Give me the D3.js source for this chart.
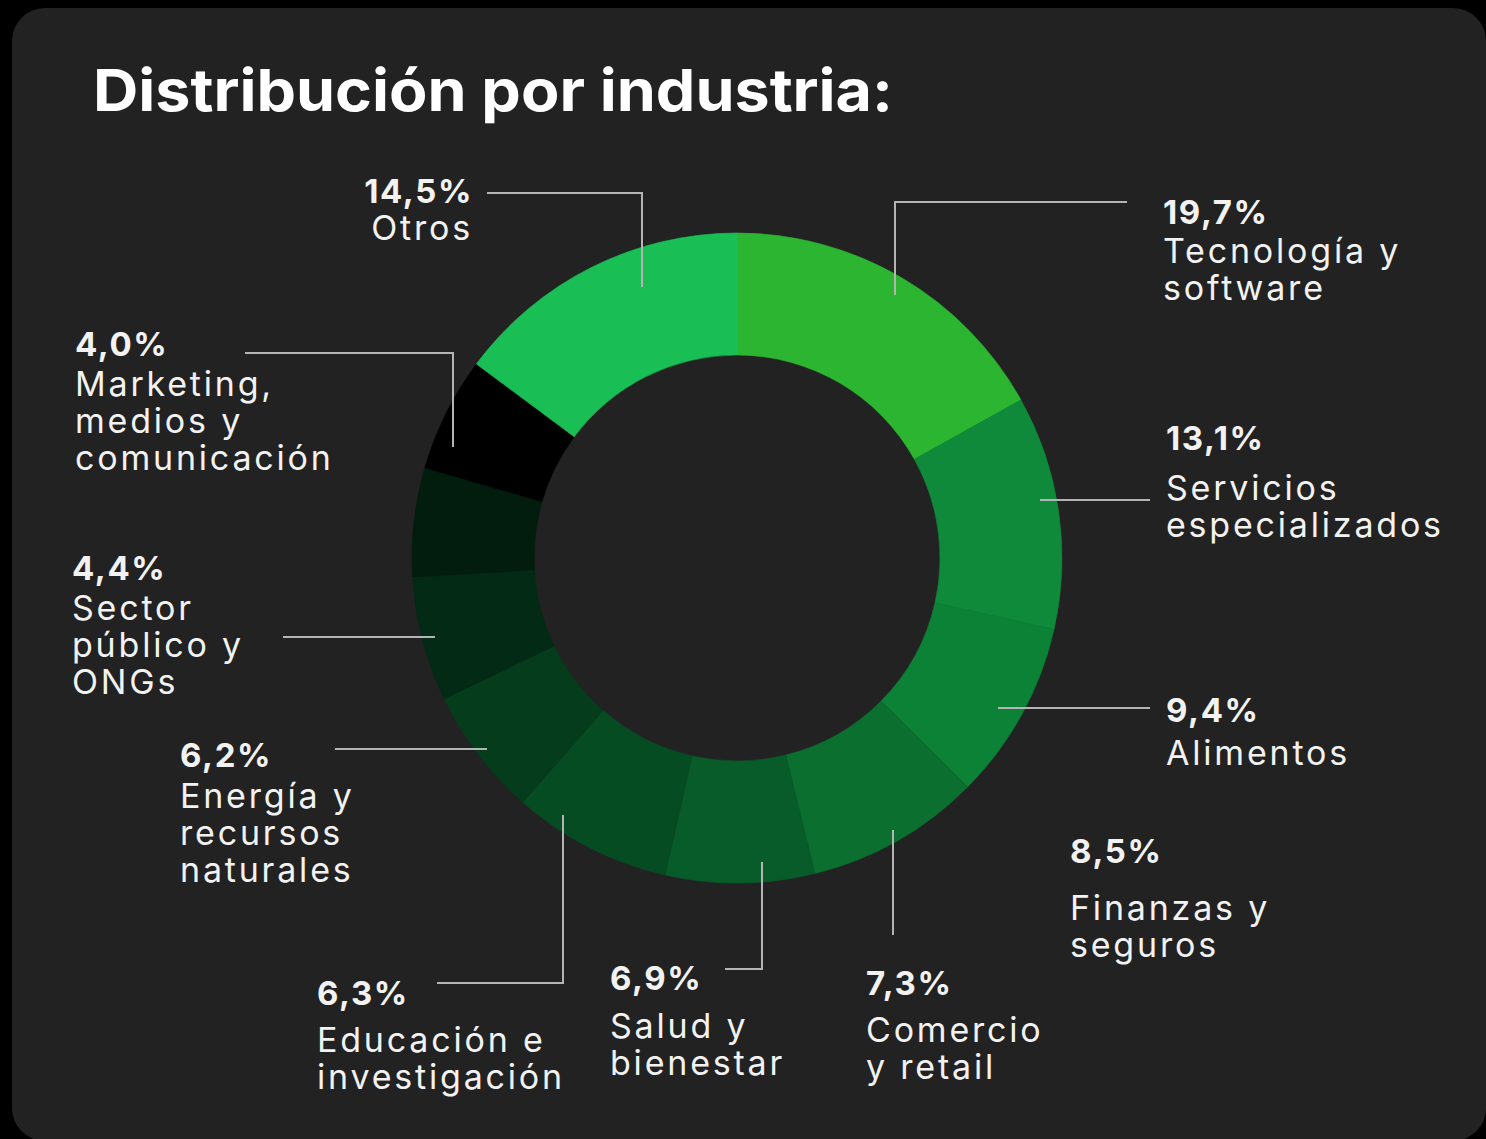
<!DOCTYPE html>
<html>
<head>
<meta charset="utf-8">
<script src="https://cdn.jsdelivr.net/npm/d3@7"></script>
<style>
  html, body { margin: 0; padding: 0; background: #000; }
  svg { display: block; }
</style>
</head>
<body>
<svg id="chart" width="1486" height="1139"></svg>
<script>
// ---------------- DATA ----------------
const title = "Distribución por industria:";

const categories = [
  "Tecnología y software",
  "Servicios especializados",
  "Alimentos",
  "Finanzas y seguros",
  "Comercio y retail",
  "Salud y bienestar",
  "Educación e investigación",
  "Energía y recursos naturales",
  "Sector público y ONGs",
  "Marketing, medios y comunicación",
  "Otros"
];

// printed percentages (as they appear in the labels)
const percentLabels = [19.7, 13.1, 9.4, 8.5, 7.3, 6.9, 6.3, 6.2, 4.4, 4.0, 14.5];

// arc sweep of each slice as drawn in the reference (percent of the ring);
// the reference ring is not exactly proportional to its printed labels
const drawnShare = [16.9, 11.6, 8.9, 8.7, 7.4, 7.9, 6.4, 6.2, 5.4, 5.7, 14.8];

// label text broken into lines as in the reference
const nameLines = [
  ["Tecnología y", "software"],
  ["Servicios", "especializados"],
  ["Alimentos"],
  ["Finanzas y", "seguros"],
  ["Comercio", "y retail"],
  ["Salud y", "bienestar"],
  ["Educación e", "investigación"],
  ["Energía y", "recursos", "naturales"],
  ["Sector", "público y", "ONGs"],
  ["Marketing,", "medios y", "comunicación"],
  ["Otros"]
];

// ---------------- STYLE / LAYOUT ----------------
const sliceColors = ["#2cb531", "#0f8a3b", "#0b8236", "#0a6f2f", "#085c2a", "#064c23",
                     "#053c1c", "#032a15", "#021c0d", "#000000", "#19bf55"];

const W = 1486, H = 1139;
const cx = 737, cy = 558, rOuter = 325, rInner = 203;

// label block positions: x, anchor, baseline of percentage, baseline of first name line
const labelLayout = [
  { x: 1163, anchor: "start", pctY: 224, nameY: 263 },
  { x: 1166, anchor: "start", pctY: 450, nameY: 500 },
  { x: 1166, anchor: "start", pctY: 722, nameY: 765 },
  { x: 1070, anchor: "start", pctY: 863, nameY: 920 },
  { x: 866,  anchor: "start", pctY: 995, nameY: 1042 },
  { x: 610,  anchor: "start", pctY: 990, nameY: 1038 },
  { x: 317,  anchor: "start", pctY: 1005, nameY: 1052 },
  { x: 180,  anchor: "start", pctY: 767, nameY: 808 },
  { x: 72,   anchor: "start", pctY: 580, nameY: 620 },
  { x: 75,   anchor: "start", pctY: 356, nameY: 396 },
  { x: 473,  anchor: "end",   pctY: 203, nameY: 240 }
];
const lineH = 37;

// leader polylines (annotation geometry)
const leaders = [
  [[1127, 202], [895, 202], [895, 295]],
  [[1150, 500], [1040, 500]],
  [[1150, 708], [998, 708]],
  null,
  [[893, 830], [893, 935]],
  [[762, 862], [762, 969], [725, 969]],
  [[563, 815], [563, 983], [437, 983]],
  [[487, 749], [335, 749]],
  [[435, 637], [283, 637]],
  [[245, 353], [453, 353], [453, 447]],
  [[487, 193], [642, 193], [642, 287]]
];

const FONT = "Inter, 'Noto Sans', 'DejaVu Sans', sans-serif";

// ---------------- DRAW ----------------
const svg = d3.select("#chart");

svg.append("rect").attr("width", W).attr("height", H).attr("fill", "#000");
svg.append("rect")
  .attr("x", 12).attr("y", 8).attr("width", 1474).attr("height", 1133)
  .attr("rx", 33).attr("ry", 33)
  .attr("fill", "#222222");

svg.append("text")
  .attr("x", 93).attr("y", 111)
  .attr("font-family", FONT).attr("font-weight", 700)
  .attr("font-size", 58).attr("fill", "#ffffff")
  .attr("textLength", 800).attr("lengthAdjust", "spacingAndGlyphs")
  .text(title);

const data = categories.map((c, i) => ({
  category: c, pct: percentLabels[i], share: drawnShare[i], i
}));

const pie = d3.pie().sort(null).value(d => d.share)
  .startAngle(0).endAngle(2 * Math.PI);
const arc = d3.arc().innerRadius(rInner).outerRadius(rOuter);

const g = svg.append("g").attr("transform", `translate(${cx},${cy})`);
g.selectAll("path.slice")
  .data(pie(data))
  .join("path")
  .attr("class", "slice")
  .attr("d", arc)
  .attr("fill", d => sliceColors[d.data.i])
  .attr("stroke", d => sliceColors[d.data.i])
  .attr("stroke-width", 0.6);

// leaders
const line = d3.line();
svg.append("g").selectAll("path.leader")
  .data(leaders.filter(l => l))
  .join("path")
  .attr("class", "leader")
  .attr("d", d => line(d))
  .attr("fill", "none")
  .attr("stroke", "#b4b4b4")
  .attr("stroke-width", 2);

// labels
const fmt = v => v.toFixed(1).replace(".", ",") + "%";
const lg = svg.append("g").attr("font-family", FONT).attr("fill", "#f2f2f2");
data.forEach((d, i) => {
  const L = labelLayout[i];
  lg.append("text")
    .attr("x", L.x).attr("y", L.pctY)
    .attr("text-anchor", L.anchor)
    .attr("font-size", 33).attr("font-weight", 700)
    .attr("letter-spacing", 1.6)
    .text(fmt(d.pct));
  const t = lg.append("text")
    .attr("text-anchor", L.anchor)
    .attr("font-size", 34).attr("font-weight", 400)
    .attr("letter-spacing", 2.8);
  nameLines[i].forEach((s, k) => {
    t.append("tspan").attr("x", L.x).attr("y", L.nameY + k * lineH).text(s);
  });
});
</script>
</body>
</html>
